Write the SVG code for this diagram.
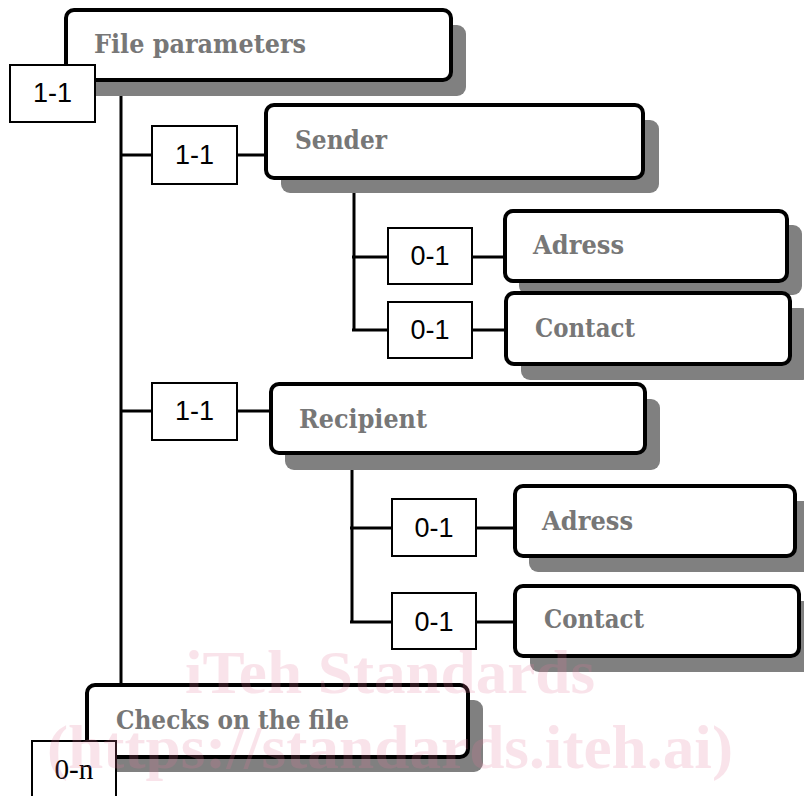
<svg xmlns="http://www.w3.org/2000/svg" width="804" height="796" viewBox="0 0 804 796">
<style>
.shadow{fill:#808080;}
.box{fill:#ffffff;stroke:#000000;stroke-width:4;}
.card{fill:#ffffff;stroke:#000000;stroke-width:2;}
.title{font-family:"DejaVu Serif","Liberation Serif",serif;font-weight:bold;font-size:26px;fill:#777777;}
.num{font-family:"Liberation Sans",Arial,sans-serif;font-size:27px;fill:#000000;text-anchor:middle;}
.numserif{font-family:"Liberation Serif","Times New Roman",serif;font-size:29px;fill:#000000;text-anchor:middle;}
.wire{stroke:#000000;stroke-width:3;fill:none;}
.wm{font-family:"Liberation Serif","Times New Roman",serif;font-weight:bold;font-size:62px;fill:#e6789a;opacity:0.2;}
</style>
<rect width="804" height="796" fill="#ffffff"/>
<g id="connectors">
<line class="wire" x1="121" y1="80" x2="121" y2="686"/>
<line class="wire" x1="121" y1="155" x2="266" y2="155"/>
<line class="wire" x1="354" y1="178" x2="354" y2="330"/>
<line class="wire" x1="352" y1="257" x2="505" y2="257"/>
<line class="wire" x1="352" y1="330" x2="506" y2="330"/>
<line class="wire" x1="121" y1="411" x2="271" y2="411"/>
<line class="wire" x1="352" y1="453" x2="352" y2="622"/>
<line class="wire" x1="350" y1="528" x2="515" y2="528"/>
<line class="wire" x1="350" y1="622" x2="515" y2="622"/>
</g>
<g id="node-file-parameters">
<rect class="shadow" x="81" y="25" width="385" height="71" rx="9"/>
<rect class="box" x="66" y="10" width="385" height="70" rx="8"/>
<text class="title" x="94" y="53" textLength="212" lengthAdjust="spacingAndGlyphs">File parameters</text>
</g>
<g id="card-file-parameters">
<rect class="card" x="10" y="65" width="85" height="57"/>
<text class="num" x="52.5" y="102" textLength="39" lengthAdjust="spacingAndGlyphs">1-1</text>
</g>
<g id="node-sender">
<rect class="shadow" x="281" y="120" width="378" height="73" rx="9"/>
<rect class="box" x="266" y="105" width="377" height="73" rx="8"/>
<text class="title" x="295" y="149" textLength="92" lengthAdjust="spacingAndGlyphs">Sender</text>
</g>
<g id="card-sender">
<rect class="card" x="152" y="126" width="85" height="58"/>
<text class="num" x="194.5" y="164" textLength="39" lengthAdjust="spacingAndGlyphs">1-1</text>
</g>
<g id="node-sender-adress">
<rect class="shadow" x="519" y="225" width="283" height="70" rx="9"/>
<rect class="box" x="505" y="211" width="282" height="70" rx="8"/>
<text class="title" x="533" y="254" textLength="91" lengthAdjust="spacingAndGlyphs">Adress</text>
</g>
<g id="card-sender-adress">
<rect class="card" x="388" y="228" width="84" height="56"/>
<text class="num" x="430" y="265" textLength="39" lengthAdjust="spacingAndGlyphs">0-1</text>
</g>
<g id="node-sender-contact">
<rect class="shadow" x="521" y="308" width="290" height="72" rx="9"/>
<rect class="box" x="506" y="293" width="284" height="71" rx="8"/>
<text class="title" x="535" y="337" textLength="100" lengthAdjust="spacingAndGlyphs">Contact</text>
</g>
<g id="card-sender-contact">
<rect class="card" x="388" y="302" width="84" height="56"/>
<text class="num" x="430" y="339" textLength="39" lengthAdjust="spacingAndGlyphs">0-1</text>
</g>
<g id="node-recipient">
<rect class="shadow" x="285" y="399" width="375" height="71" rx="9"/>
<rect class="box" x="271" y="384" width="374" height="69" rx="8"/>
<text class="title" x="299" y="428" textLength="128" lengthAdjust="spacingAndGlyphs">Recipient</text>
</g>
<g id="card-recipient">
<rect class="card" x="152" y="383" width="85" height="57"/>
<text class="num" x="194.5" y="420" textLength="39" lengthAdjust="spacingAndGlyphs">1-1</text>
</g>
<g id="node-recipient-adress">
<rect class="shadow" x="529" y="501" width="285" height="71" rx="9"/>
<rect class="box" x="515" y="486" width="280" height="70" rx="8"/>
<text class="title" x="542" y="530" textLength="91" lengthAdjust="spacingAndGlyphs">Adress</text>
</g>
<g id="card-recipient-adress">
<rect class="card" x="392" y="499" width="84" height="57"/>
<text class="num" x="434" y="537" textLength="39" lengthAdjust="spacingAndGlyphs">0-1</text>
</g>
<g id="node-recipient-contact">
<rect class="shadow" x="530" y="601" width="285" height="71" rx="9"/>
<rect class="box" x="515" y="586" width="284" height="70" rx="8"/>
<text class="title" x="544" y="628" textLength="100" lengthAdjust="spacingAndGlyphs">Contact</text>
</g>
<g id="card-recipient-contact">
<rect class="card" x="392" y="593" width="84" height="56"/>
<text class="num" x="434" y="631" textLength="39" lengthAdjust="spacingAndGlyphs">0-1</text>
</g>
<g id="node-checks">
<rect class="shadow" x="102" y="700" width="381" height="72" rx="9"/>
<rect class="box" x="87" y="685" width="381" height="72" rx="8"/>
<text class="title" x="116" y="729" textLength="233" lengthAdjust="spacingAndGlyphs">Checks on the file</text>
</g>
<g id="card-checks">
<rect class="card" x="32" y="741" width="84" height="60"/>
<text class="numserif" x="74" y="779" textLength="39" lengthAdjust="spacingAndGlyphs">0-n</text>
</g>
<g id="watermark">
<text class="wm" x="185" y="693" textLength="410" lengthAdjust="spacingAndGlyphs">iTeh Standards</text>
<text class="wm" x="47" y="768" textLength="686" lengthAdjust="spacingAndGlyphs">(https://standards.iteh.ai)</text>
</g>
</svg>
